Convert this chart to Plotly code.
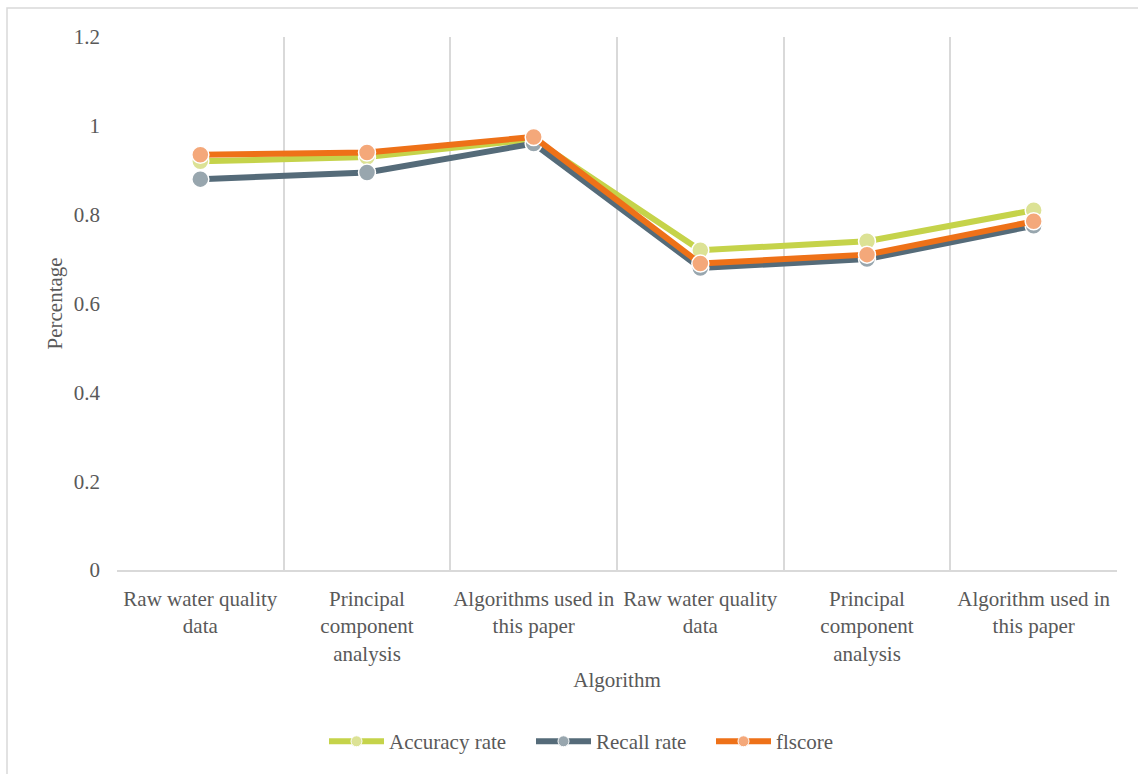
import plotly.graph_objects as go

# Categories (two groups of three methods) and metric values
categories = [
    "Raw water quality<br>data",
    "Principal<br>component<br>analysis",
    "Algorithms used in<br>this paper",
    "Raw water quality<br>data",
    "Principal<br>component<br>analysis",
    "Algorithm used in<br>this paper",
]
accuracy_rate = [0.92, 0.93, 0.97, 0.72, 0.74, 0.81]
recall_rate = [0.88, 0.895, 0.96, 0.68, 0.70, 0.775]
f1_score = [0.935, 0.94, 0.975, 0.69, 0.71, 0.785]

series = [
    ("Accuracy rate", accuracy_rate, "#C5D34A", "#DCE295"),
    ("Recall rate", recall_rate, "#556B79", "#98A6AE"),
    ("flscore", f1_score, "#EE7118", "#F4A87A"),
]
# one legend box per series, placed along the bottom
legend_ids = ["legend", "legend2", "legend3"]
legend_x = [0.207, 0.414, 0.594]

TEXT = "#595959"
GRID = "#D9D9D9"
FONT = "Times New Roman, Liberation Serif, DejaVu Serif, serif"
SIZE = 21

positions = list(range(len(categories)))

fig = go.Figure()
for (name, values, line_color, marker_color), leg in zip(series, legend_ids):
    # data trace
    fig.add_trace(go.Scatter(
        x=positions,
        y=values,
        name=name,
        legendgroup=name,
        showlegend=False,
        mode="lines+markers",
        line=dict(color=line_color, width=6),
        marker=dict(size=17, color=marker_color,
                    line=dict(color="white", width=1.5)),
    ))
    # legend entry with a smaller marker
    fig.add_trace(go.Scatter(
        x=[None],
        y=[None],
        name=name,
        legendgroup=name,
        legend=leg,
        mode="lines+markers",
        line=dict(color=line_color, width=6),
        marker=dict(size=11, color=marker_color,
                    line=dict(color="white", width=1)),
    ))

# Invisible helper trace on a secondary x axis that carries the
# category-boundary gridlines
boundaries = [p - 0.5 for p in positions] + [positions[-1] + 0.5]
fig.add_trace(go.Scatter(x=boundaries, y=[0] * len(boundaries), xaxis="x2",
                         mode="markers", marker=dict(opacity=0),
                         showlegend=False, hoverinfo="skip"))

legend_style = dict(orientation="h", xanchor="left",
                    y=-0.322, yanchor="middle",
                    font=dict(family=FONT, size=SIZE, color=TEXT),
                    itemwidth=55, tracegroupgap=0,
                    bgcolor="rgba(0,0,0,0)")

fig.update_layout(
    width=1138,
    height=774,
    margin=dict(l=117, r=21, t=37, b=202),
    paper_bgcolor="white",
    plot_bgcolor="white",
    font=dict(family=FONT, size=SIZE, color=TEXT),
    showlegend=True,
    xaxis=dict(
        range=[-0.5, 5.5],
        tickmode="array",
        tickvals=positions,
        ticktext=categories,
        showgrid=False,
        zeroline=False,
        showline=True,
        linecolor=GRID,
        linewidth=1.5,
        ticks="",
        ticklabelstandoff=9,
        title=dict(text="Algorithm", standoff=8,
                   font=dict(family=FONT, size=SIZE, color=TEXT)),
    ),
    xaxis2=dict(
        overlaying="x",
        matches="x",
        tickmode="array",
        tickvals=boundaries,
        showticklabels=False,
        showgrid=True,
        gridcolor=GRID,
        gridwidth=1.5,
        zeroline=False,
        showline=False,
        ticks="",
    ),
    yaxis=dict(
        range=[0, 1.2],
        dtick=0.2,
        tickformat="~g",
        showgrid=False,
        zeroline=False,
        showline=False,
        ticks="",
        ticklabelstandoff=16,
    ),
)
for leg, lx in zip(legend_ids, legend_x):
    fig.update_layout({leg: dict(legend_style, x=lx)})

# Y axis title
fig.add_annotation(text="Percentage", xref="paper", yref="paper",
                   x=-0.063, y=0.5, xanchor="center", yanchor="middle",
                   textangle=-90, showarrow=False,
                   font=dict(family=FONT, size=SIZE, color=TEXT))

# Chart frame
fig.add_shape(type="rect", xref="paper", yref="paper",
              x0=-0.110, x1=1.03, y0=-0.40, y1=1.0542,
              line=dict(color=GRID, width=1.5), layer="below")

fig.write_html("out.html")
